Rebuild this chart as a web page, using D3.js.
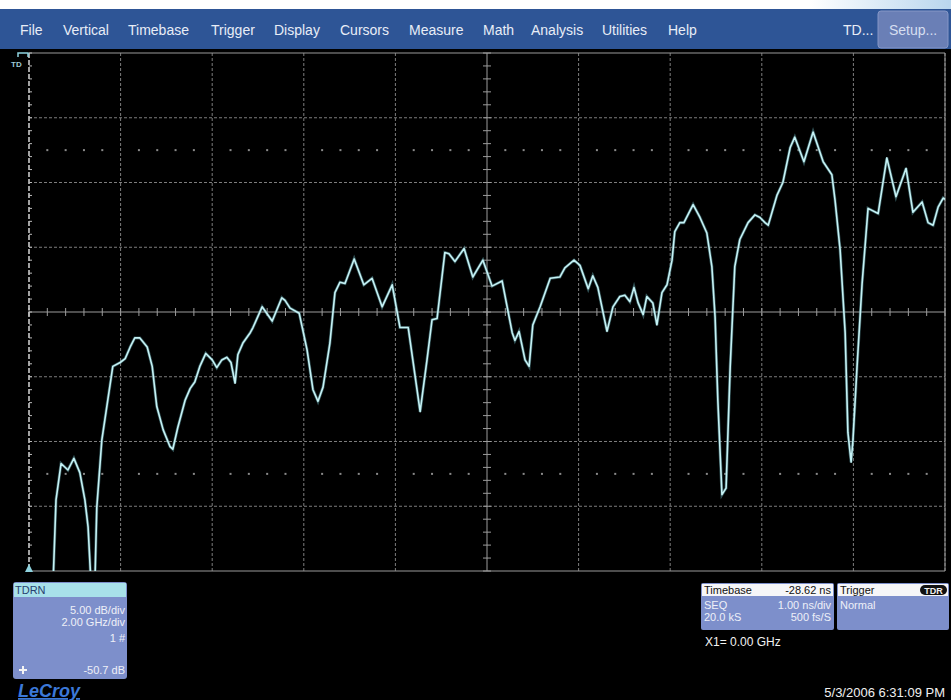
<!DOCTYPE html>
<html><head><meta charset="utf-8">
<script src="https://cdn.jsdelivr.net/npm/d3@7/dist/d3.min.js"></script>
<style>
html,body{margin:0;padding:0;background:#000;}
svg{display:block;}
text{font-family:"Liberation Sans",Arial,sans-serif;}
</style></head>
<body>
<script>
// ---- data ----
const freqGHz = [0.50,0.59,0.70,0.85,0.98,1.11,1.22,1.29,1.35,1.40,1.44,1.48,1.59,1.72,1.83,1.99,2.10,2.21,2.31,2.42,2.58,2.69,2.79,2.93,3.08,3.14,3.25,3.41,3.52,3.62,3.73,3.86,4.00,4.10,4.21,4.32,4.41,4.50,4.56,4.67,4.83,4.89,5.09,5.31,5.52,5.59,5.70,5.90,6.07,6.20,6.31,6.42,6.57,6.68,6.79,6.90,7.10,7.31,7.49,7.71,7.93,8.10,8.28,8.38,8.54,8.69,8.80,8.91,9.08,9.17,9.30,9.50,9.69,9.91,10.11,10.33,10.44,10.55,10.61,10.70,10.83,10.92,11.00,11.16,11.38,11.59,11.70,11.90,12.03,12.21,12.31,12.42,12.62,12.75,12.90,13.01,13.12,13.21,13.30,13.41,13.49,13.62,13.71,13.82,13.93,14.04,14.10,14.21,14.30,14.50,14.65,14.80,14.91,14.98,15.04,15.13,15.22,15.31,15.41,15.52,15.70,15.85,15.96,16.07,16.14,16.33,16.46,16.62,16.72,16.92,17.12,17.34,17.53,17.60,17.71,17.82,17.88,17.95,17.99,18.08,18.19,18.32,18.54,18.73,18.93,19.15,19.30,19.50,19.63,19.74,19.85,19.96,20.00];
const levelDB = [-23.5,-14.5,-11.7,-12.2,-11.3,-12.4,-14.5,-16.6,-20.7,-23.8,-20.7,-15.1,-9.9,-6.8,-4.2,-3.9,-3.6,-2.7,-2.0,-2.0,-2.7,-4.2,-7.3,-9.1,-10.4,-10.6,-8.9,-6.8,-5.9,-5.4,-4.2,-3.2,-3.7,-4.3,-3.7,-3.5,-3.9,-5.5,-3.3,-2.4,-1.6,-1.2,0.4,-0.7,1.1,0.9,0.3,-0.1,-2.9,-6.0,-6.9,-5.8,-2.4,1.5,2.3,2.2,4.1,2.1,2.6,0.4,2.1,-1.2,-1.2,-3.7,-7.7,-3.7,-0.6,-0.5,4.6,4.5,3.9,4.9,2.7,4.0,2.0,2.4,0.4,-1.6,-2.2,-1.5,-3.7,-4.2,-1.0,0.4,2.6,2.7,3.4,4.0,3.6,1.8,2.8,1.9,-1.5,0.4,1.2,1.3,0.8,1.9,0.7,-0.2,1.2,0.7,-1.0,1.5,2.1,4.0,6.2,6.9,6.9,8.3,7.3,6.1,3.5,-0.4,-6.8,-14.1,-13.6,-4.2,3.5,5.6,6.9,7.5,7.3,6.9,6.7,9.0,10.0,12.7,13.5,11.6,13.9,11.6,10.6,8.6,4.8,-1.6,-9.3,-11.6,-9.9,-4.2,2.2,8.0,7.6,11.9,8.9,11.1,7.7,8.5,6.9,6.7,8.1,8.8,8.7];
const menuItems = ["File","Vertical","Timebase","Trigger","Display","Cursors","Measure","Math","Analysis","Utilities","Help"];
const menuX = [20,63,128,211,274,340,409,483,531,602,668];
const channelLines = ["5.00 dB/div","2.00 GHz/div","1 #"];
const channelOffset = "-50.7 dB";
const timebaseRows = [["SEQ","1.00 ns/div"],["20.0 kS","500 fs/S"]];

const W = 951, H = 700;
const svg = d3.select("body").append("svg").attr("width",W).attr("height",H);

// top strip
const defs = svg.append("defs");
const g1 = defs.append("linearGradient").attr("id","topgrad").attr("x1","0").attr("x2","1").attr("y1","0").attr("y2","0");
g1.append("stop").attr("offset","0").attr("stop-color","#ffffff");
g1.append("stop").attr("offset","0.85").attr("stop-color","#ffffff");
g1.append("stop").attr("offset","1").attr("stop-color","#b9d6ee");
svg.append("rect").attr("x",0).attr("y",0).attr("width",W).attr("height",9).attr("fill","url(#topgrad)");
svg.append("rect").attr("x",0).attr("y",9).attr("width",W).attr("height",40).attr("fill","#2e5596");
svg.append("rect").attr("x",0).attr("y",49).attr("width",W).attr("height",H-49).attr("fill","#000");

svg.selectAll("text.menu").data(menuItems).join("text")
  .attr("class","menu").attr("x",(d,i)=>menuX[i]).attr("y",35)
  .attr("font-size",14).attr("fill","#e8edf6").text(d=>d);
svg.append("text").attr("x",843).attr("y",35).attr("font-size",14).attr("fill","#e8edf6").text("TD...");
svg.append("rect").attr("x",878).attr("y",11).attr("width",70).attr("height",37).attr("rx",3)
  .attr("fill","#6a7fb6").attr("stroke","#8597c6");
svg.append("text").attr("x",889).attr("y",35).attr("font-size",14).attr("fill","#d6def0").text("Setup...");

// ---- scales ----
const x = d3.scaleLinear().domain([0,20]).range([29,945]);
const y = d3.scaleLinear().domain([-20,20]).range([571,53]);
const plot = svg.append("g");

const xMaj = x.ticks(10), yMaj = y.ticks(8);
const xMin = d3.range(0,20.001,0.4), yMin = d3.range(-20,20.001,1);

// major grid
plot.selectAll("line.vg").data(xMaj.filter(d=>d>0 && d!==10)).join("line")
  .attr("x1",d=>x(d)).attr("x2",d=>x(d)).attr("y1",y(20)).attr("y2",y(-20))
  .attr("stroke","#7d7d7d").attr("stroke-dasharray","3,2");
plot.selectAll("line.hg").data(yMaj.filter(d=>d!==0)).join("line")
  .attr("x1",x(0)).attr("x2",x(20)).attr("y1",d=>y(d)).attr("y2",d=>y(d))
  .attr("stroke",d=>(d===20||d===-20)?"#9a9a9a":"#7d7d7d")
  .attr("stroke-dasharray",d=>(d===20||d===-20)?null:"3,2");

// dotted rows at ±2.5 div
[12.5,-12.5].forEach(v=>{
  plot.selectAll(null).data(xMin.filter(d=>Math.abs(d/2-Math.round(d/2))>0.01)).join("rect")
    .attr("x",d=>x(d)-1).attr("y",y(v)-1).attr("width",2).attr("height",2).attr("fill","#8a8a8a");
});

// center cross
plot.append("line").attr("x1",x(0)).attr("x2",x(20)).attr("y1",y(0)).attr("y2",y(0)).attr("stroke","#9c9c9c");
plot.append("line").attr("x1",x(10)).attr("x2",x(10)).attr("y1",y(20)).attr("y2",y(-20)).attr("stroke","#9c9c9c");
plot.selectAll(null).data(xMin).join("line")
  .attr("x1",d=>x(d)).attr("x2",d=>x(d)).attr("y1",y(0)-4).attr("y2",y(0)+4).attr("stroke","#9c9c9c");
plot.selectAll(null).data(yMin).join("line")
  .attr("x1",x(10)-4).attr("x2",x(10)+4).attr("y1",d=>y(d)).attr("y2",d=>y(d)).attr("stroke","#9c9c9c");

// left and right borders
plot.append("line").attr("x1",x(0)).attr("x2",x(0)).attr("y1",y(20)).attr("y2",y(-20))
  .attr("stroke","#d8d8d8").attr("stroke-width",1.5).attr("stroke-dasharray","5,2");
plot.selectAll(null).data(yMin).join("line")
  .attr("x1",x(0)).attr("x2",x(0)+3).attr("y1",d=>y(d)).attr("y2",d=>y(d)).attr("stroke","#bbbbbb");
plot.append("line").attr("x1",x(20)).attr("x2",x(20)).attr("y1",y(20)).attr("y2",y(-20)).attr("stroke","#9a9a9a");

// markers
svg.append("path").attr("d",`M${x(0)-4},${y(-20)+1}L${x(0)},${y(-20)-7}L${x(0)+4},${y(-20)+1}Z`).attr("fill","#8fd3df");
svg.append("path").attr("d",`M18,57V53H28V57`).attr("fill","none").attr("stroke","#8fd3df").attr("stroke-width",1.5);
svg.append("text").attr("x",11).attr("y",67).attr("font-size",8).attr("font-weight","bold").attr("fill","#9fc9d6").text("TD");

// trace
defs.append("clipPath").attr("id","clip").append("rect")
  .attr("x",x(0)).attr("y",y(20)).attr("width",x(20)-x(0)).attr("height",y(-20)-y(20));
const line = d3.line().x((d,i)=>x(freqGHz[i])).y(d=>y(d));
plot.append("path").datum(levelDB).attr("clip-path","url(#clip)")
  .attr("d",line).attr("fill","none").attr("stroke","#5f9fa8").attr("stroke-width",3).attr("opacity",0.5);
plot.append("path").datum(levelDB).attr("clip-path","url(#clip)")
  .attr("d",line).attr("fill","none").attr("stroke","#c6f2f5").attr("stroke-width",1.6).attr("stroke-linejoin","round");

// ---- channel box ----
const cb = svg.append("g");
cb.append("rect").attr("x",13).attr("y",582).attr("width",114).attr("height",97).attr("rx",3).attr("fill","#7d8fcb");
cb.append("rect").attr("x",14).attr("y",583).attr("width",112).attr("height",14).attr("fill","#a8e1ea");
cb.append("text").attr("x",15).attr("y",594).attr("font-size",11).attr("fill","#27406e").text("TDRN");
cb.selectAll("text.cl").data(channelLines).join("text").attr("class","cl")
  .attr("x",125).attr("y",(d,i)=>[614,626,642][i]).attr("text-anchor","end")
  .attr("font-size",11).attr("fill","#eef0f8").text(d=>d);
cb.append("text").attr("x",125).attr("y",674).attr("text-anchor","end").attr("font-size",11).attr("fill","#eef0f8").text(channelOffset);
cb.append("path").attr("d","M19,670H27M23,666V674").attr("stroke","#f4f4f4").attr("stroke-width",2);
svg.append("text").attr("x",18).attr("y",697).attr("font-size",18).attr("font-weight","bold").attr("font-style","italic")
  .attr("fill","#3b78d8").attr("text-decoration","underline").text("LeCroy");

// ---- timebase / trigger ----
const tb = svg.append("g");
tb.append("rect").attr("x",701).attr("y",583).attr("width",133).attr("height",47).attr("rx",2).attr("fill","#7d8fcb");
tb.append("rect").attr("x",702).attr("y",584).attr("width",131).attr("height",12).attr("fill","#f6f6f8");
tb.append("text").attr("x",704).attr("y",594).attr("font-size",11).attr("fill","#111").text("Timebase");
tb.append("text").attr("x",831).attr("y",594).attr("text-anchor","end").attr("font-size",11).attr("fill","#111").text("-28.62 ns");
timebaseRows.forEach((r,i)=>{
  tb.append("text").attr("x",704).attr("y",609+i*12).attr("font-size",11).attr("fill","#eef0f8").text(r[0]);
  tb.append("text").attr("x",831).attr("y",609+i*12).attr("text-anchor","end").attr("font-size",11).attr("fill","#eef0f8").text(r[1]);
});
tb.append("rect").attr("x",837).attr("y",583).attr("width",112).attr("height",47).attr("rx",2).attr("fill","#7d8fcb");
tb.append("rect").attr("x",838).attr("y",584).attr("width",110).attr("height",12).attr("fill","#f6f6f8");
tb.append("text").attr("x",840).attr("y",594).attr("font-size",11).attr("fill","#111").text("Trigger");
tb.append("rect").attr("x",920).attr("y",585).attr("width",27).attr("height",10).attr("rx",5).attr("fill","#111");
tb.append("text").attr("x",933.5).attr("y",594).attr("text-anchor","middle").attr("font-size",9).attr("font-weight","bold").attr("fill","#f0f0f0").text("TDR");
tb.append("text").attr("x",840).attr("y",609).attr("font-size",11).attr("fill","#eef0f8").text("Normal");

svg.append("text").attr("x",705).attr("y",646).attr("font-size",12).attr("fill","#f2f2f2").text("X1=  0.00 GHz");
svg.append("text").attr("x",945).attr("y",697).attr("text-anchor","end").attr("font-size",13).attr("fill","#f0f0f0").text("5/3/2006 6:31:09 PM");
</script>
</body></html>
